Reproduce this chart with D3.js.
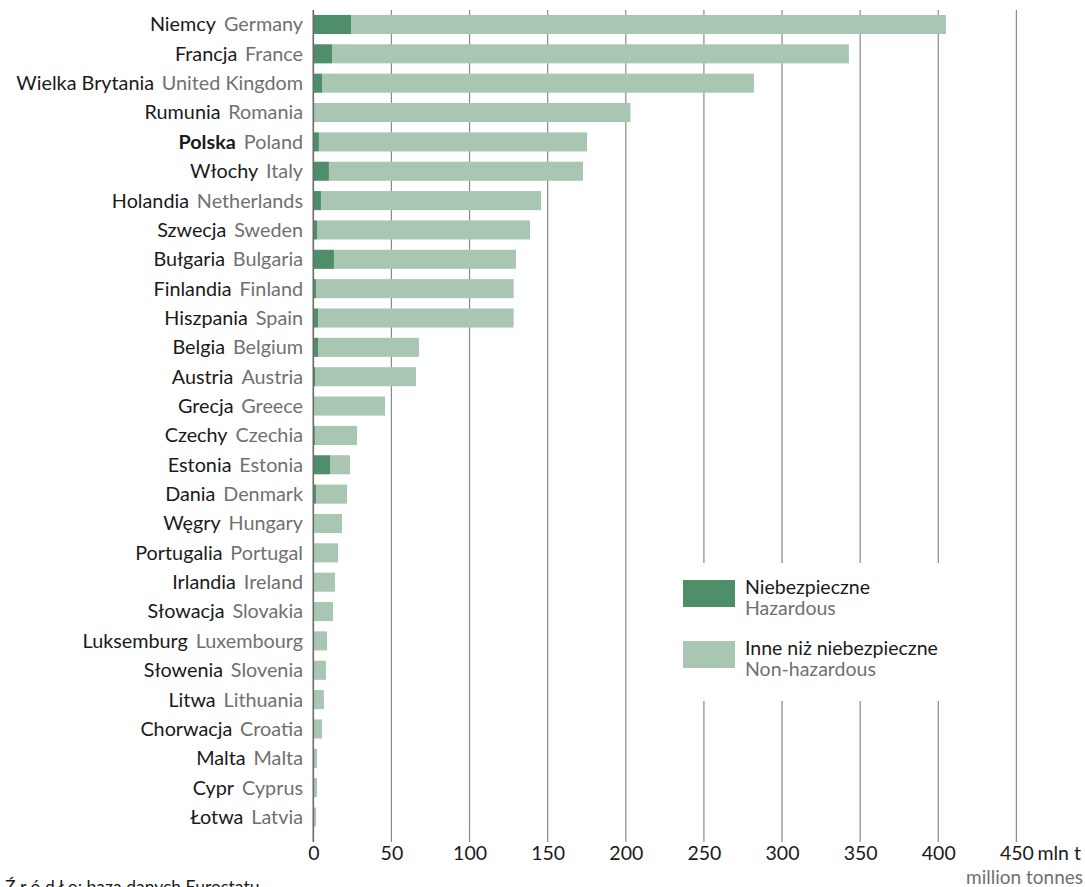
<!DOCTYPE html>
<html>
<head>
<meta charset="utf-8">
<script src="https://cdn.jsdelivr.net/npm/d3@7"></script>
<style>
  html, body { margin: 0; padding: 0; background: #fff; }
  svg { display: block; }
  text { font-family: Lato, "Open Sans", sans-serif; }
</style>
</head>
<body>
<svg id="chart" width="1085" height="887"></svg>
<script>
const countriesPL = ["Niemcy","Francja","Wielka Brytania","Rumunia","Polska","Włochy","Holandia","Szwecja","Bułgaria","Finlandia","Hiszpania","Belgia","Austria","Grecja","Czechy","Estonia","Dania","Węgry","Portugalia","Irlandia","Słowacja","Luksemburg","Słowenia","Litwa","Chorwacja","Malta","Cypr","Łotwa"];
const countriesEN = ["Germany","France","United Kingdom","Romania","Poland","Italy","Netherlands","Sweden","Bulgaria","Finland","Spain","Belgium","Austria","Greece","Czechia","Estonia","Denmark","Hungary","Portugal","Ireland","Slovakia","Luxembourg","Slovenia","Lithuania","Croatia","Malta","Cyprus","Latvia"];
const hazardous    = [24.1, 12.0, 5.6, 0.6, 3.6, 10.0, 4.9, 2.4, 13.2, 1.7, 3.0, 3.0, 1.1, 0.4, 1.0, 10.7, 1.7, 0.5, 0.4, 0.3, 0.5, 0.3, 0.2, 0.2, 0.2, 0.1, 0.1, 0.1];
const nonHazardous = [380.8, 330.8, 276.4, 202.4, 171.6, 162.6, 140.9, 136.3, 116.5, 126.5, 125.2, 64.6, 64.6, 45.5, 27.0, 12.8, 19.9, 17.9, 15.4, 13.6, 12.1, 8.5, 7.9, 6.6, 5.4, 2.3, 2.3, 1.6];
const xTicks = [0, 50, 100, 150, 200, 250, 300, 350, 400, 450];
const unitPL = "mln t";
const unitEN = "million tonnes";
const legendPL = ["Niebezpieczne", "Inne niż niebezpieczne"];
const legendEN = ["Hazardous", "Non-hazardous"];
const highlight = "Polska";
const sourceText = "Ź r ó d ł o: baza danych Eurostatu";

const colHaz = "#4e8f6a";
const colNon = "#a8c6b2";
const colDark = "#1a1a1a";
const colGrey = "#707070";

const svg = d3.select("#chart");
const x = d3.scaleLinear().domain([0, 450]).range([313.3, 1016.4]);
const y = d3.scaleBand().domain(countriesPL).range([9.8, 831.7]).paddingInner(0.35).paddingOuter(0.175);

const gridTop = 10, gridBot = 842;
const fs = 19.8;
const narrow = "'Liberation Sans Narrow', Lato, sans-serif";

// gridlines
svg.append("g").selectAll("line").data(xTicks.filter(d => d > 0)).join("line")
  .attr("x1", d => x(d)).attr("x2", d => x(d))
  .attr("y1", gridTop).attr("y2", gridBot)
  .attr("stroke", "#8a8a8a").attr("stroke-width", 1.2);

// bars
const rows = countriesPL.map((c, i) => ({c, en: countriesEN[i], h: hazardous[i], n: nonHazardous[i]}));
const bars = svg.append("g");
bars.selectAll("rect.non").data(rows).join("rect").attr("class", "non")
  .attr("x", d => x(d.h)).attr("width", d => x(d.h + d.n) - x(d.h))
  .attr("y", d => y(d.c)).attr("height", y.bandwidth()).attr("fill", colNon);
bars.selectAll("rect.haz").data(rows).join("rect").attr("class", "haz")
  .attr("x", x(0)).attr("width", d => x(d.h) - x(0))
  .attr("y", d => y(d.c)).attr("height", y.bandwidth()).attr("fill", colHaz);

// zero line
svg.append("line").attr("x1", x(0)).attr("x2", x(0)).attr("y1", gridTop).attr("y2", gridBot)
  .attr("stroke", "#6a6a6a").attr("stroke-width", 1.6);

// category labels
const lab = svg.append("g").selectAll("text").data(rows).join("text")
  .attr("x", 303).attr("y", d => y(d.c) + y.bandwidth() / 2)
  .attr("dy", "0.35em").attr("text-anchor", "end").attr("font-size", fs);
lab.append("tspan").text(d => d.c).attr("fill", colDark)
  .attr("font-weight", d => d.c === highlight ? "bold" : "normal");
lab.append("tspan").text(d => d.en).attr("dx", 8).attr("fill", colGrey);

// x axis labels
const axis = d3.axisBottom(x).tickValues(xTicks).tickSize(0).tickPadding(0).tickFormat(d3.format("d"));
const ag = svg.append("g").attr("transform", `translate(0,${gridBot})`).call(axis);
ag.select(".domain").remove();
ag.selectAll("text").attr("font-size", 19.5).attr("fill", colDark)
  .attr("font-family", narrow)
  .attr("dy", null).attr("y", 18);
svg.append("text").attr("x", x(450) + 21).attr("y", gridBot + 18).attr("font-size", 19.5)
  .attr("font-family", narrow)
  .attr("fill", colDark).text(unitPL);
svg.append("text").attr("x", 1083).attr("y", 884).attr("text-anchor", "end")
  .attr("font-size", 19).attr("fill", colGrey).text(unitEN);

// legend
const lg = svg.append("g");
lg.append("rect").attr("x", 660).attr("y", 563).attr("width", 345).attr("height", 138).attr("fill", "#fff");
const legCols = [colHaz, colNon];
const legY = [580, 641];
legCols.forEach((c, i) => {
  lg.append("rect").attr("x", 683).attr("y", legY[i]).attr("width", 52).attr("height", 27).attr("fill", c);
  lg.append("text").attr("x", 745).attr("y", legY[i] + 14).attr("font-size", 19.5).attr("fill", colDark).text(legendPL[i]);
  lg.append("text").attr("x", 745).attr("y", legY[i] + 35).attr("font-size", 19.5).attr("fill", colGrey).text(legendEN[i]);
});

// source
svg.append("text").attr("x", 5).attr("y", 893).attr("font-size", 17.5).attr("font-family", narrow)
  .attr("fill", colDark).text(sourceText);
</script>
</body>
</html>
